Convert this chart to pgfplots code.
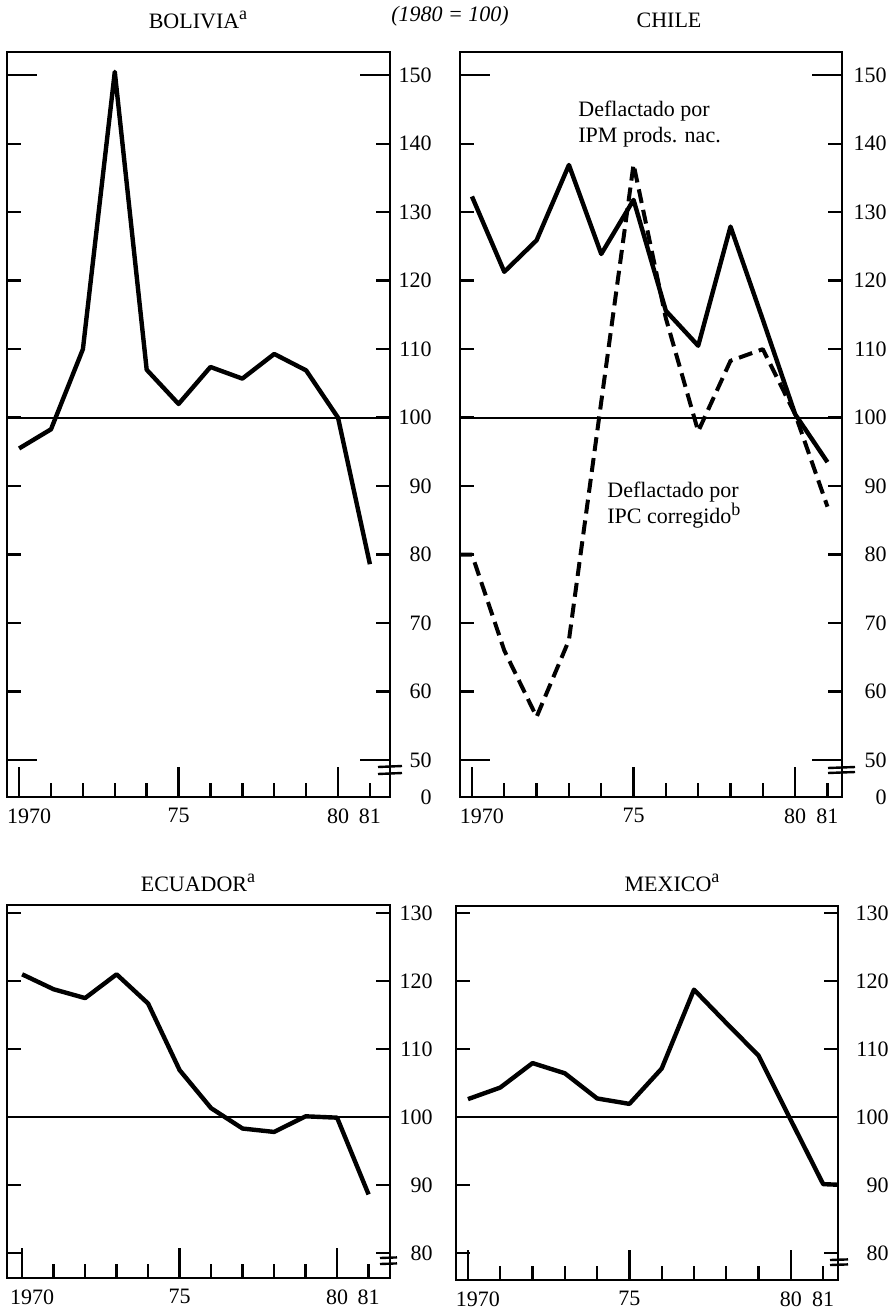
\documentclass[border=0pt]{standalone}
\usepackage{fontspec}
\setmainfont{Liberation Serif}
\usepackage{pgfplots}
\pgfplotsset{compat=1.18}

\newcommand{\supl}[1]{\raisebox{0.38em}{\fontsize{9}{9}\selectfont #1}}

% common look of the four panels
\pgfplotsset{
  panel/.style={
    scale only axis, anchor=north west,
    axis line style={line width=1.2pt},
    tick align=inside,
    xtick pos=left, ytick pos=both,
    yticklabel pos=right,
    major tick length=7pt,
    every tick/.style={black, line width=1.2pt},
    tick label style={font=\fontsize{11}{13}\selectfont, inner sep=0pt},
    /pgf/number format/assume math mode=true,
    xtick={1970,1971,1972,1973,1974,1975,1976,1977,1978,1979,1980,1981},
    xticklabels={,,,,,75,,,,,80,81},
    xticklabel style={yshift=-5.5pt},
    extra x ticks={1970,1975,1980},
    extra x tick labels={1970,,},
    extra tick style={major tick length=15pt},
    extra x tick style={xticklabel style={xshift=5pt}},
    yticklabel style={anchor=east, xshift=#1},
  },
  toppanel/.style={
    panel=#1,
    width=191.5pt, height=372.5pt,
    ymin=44.6, ymax=153.4,
    ytick={44.6,50,60,70,80,90,100,110,120,130,140,150},
    yticklabels={0,50,60,70,80,90,100,110,120,130,140,150},
    extra y ticks={50,150},
    extra y tick labels={,},
  },
  botpanel/.style={
    panel=#1,
    width=191.5pt, height=186.5pt,
    ytick={80,90,100,110,120,130},
    yticklabels={80,90,100,110,120,130},
  },
  serie/.style={line width=2.2pt, line join=round, black},
  base/.style={line width=0.9pt, black},
}

\begin{document}
\begin{tikzpicture}
\path[use as bounding box] (0,0) rectangle (447pt,-654.5pt);

% BOLIVIA
\begin{axis}[toppanel=21pt, at={(3.5pt,-26pt)}, xmin=1969.62, xmax=1981.63]
  \addplot[base] coordinates {(1969,100) (1983,100)};
  \addplot[serie] coordinates {
    (1970,95.5) (1971,98.3) (1972,110) (1973,150.5) (1974,107) (1975,102)
    (1976,107.4) (1977,105.7) (1978,109.3) (1979,106.9) (1980,100) (1981,78.6)};
\end{axis}

% CHILE
\begin{axis}[toppanel=22.5pt, at={(230pt,-26pt)}, width=191pt, xmin=1969.63, xmax=1981.45]
  \addplot[base] coordinates {(1969,100) (1983,100)};
  % deflactado por IPM productos nacionales
  \addplot[serie] coordinates {
    (1970,132.3) (1971,121.3) (1972,125.9) (1973,136.9) (1974,123.9) (1975,131.8)
    (1976,115.6) (1977,110.5) (1978,127.9) (1979,114.3) (1980,100.5) (1981,93.5)};
  % deflactado por IPC corregido
  \addplot[serie, line width=2pt, dash pattern=on 7pt off 3.5pt] coordinates {
    (1969.6,80) (1970,80) (1971,66) (1972,56.3) (1973,67.5) (1974,102.3) (1975,137)
    (1976,114.5) (1977,98) (1978,108.3) (1979,110) (1980,100.5) (1981,87)};
\end{axis}

% ECUADOR
\begin{axis}[botpanel=21.5pt, at={(3.5pt,-452.5pt)}, xmin=1969.52, xmax=1981.68,
  ymin=76.3, ymax=131.2]
  \addplot[base] coordinates {(1969,100) (1983,100)};
  \addplot[serie] coordinates {
    (1970,121) (1971,118.8) (1972,117.5) (1973,121) (1974,116.7) (1975,106.9)
    (1976,101.3) (1977,98.3) (1978,97.8) (1979,100.1) (1980,99.9) (1981,88.6)};
\end{axis}

% MEXICO
\begin{axis}[botpanel=25.5pt, at={(228pt,-453pt)}, width=191pt, height=187pt,
  xmin=1969.63, xmax=1981.46, ymin=76, ymax=131]
  \addplot[base] coordinates {(1969,100) (1983,100)};
  \addplot[serie] coordinates {
    (1970,102.6) (1971,104.3) (1972,107.9) (1973,106.4) (1974,102.7) (1975,101.9)
    (1976,107.1) (1977,118.7) (1978,113.8) (1979,109) (1980,99.5) (1981,90.1) (1981.5,90)};
\end{axis}

% titles
\begin{scope}[every node/.style={font=\fontsize{11}{13}\selectfont}]
  \node at (99pt,-10pt) {BOLIVIA\supl{a}};
  \node at (225pt,-8pt) {\itshape (1980 = 100)};
  \node at (334.5pt,-10pt) {CHILE};
  \node at (99pt,-441.5pt) {ECUADOR\supl{a}};
  \node at (336pt,-441.5pt) {MEXICO\supl{a}};
  \node[anchor=north west, align=left, inner sep=0pt] at (289pt,-50.5pt)
    {Deflactado por\\IPM prods. nac.};
  \node[anchor=north west, align=left, inner sep=0pt] at (303.5pt,-241pt)
    {Deflactado por\\IPC corregido\supl{b}};
\end{scope}

% axis breaks
\begin{scope}[line width=1.2pt]
  \draw (189pt,-383.5pt) -- (201pt,-383pt);
  \draw (189pt,-387pt) -- (201pt,-386.5pt);
  \draw (414pt,-384pt) -- (427.5pt,-383.5pt);
  \draw (414pt,-386.5pt) -- (427.5pt,-386pt);
  \draw (190pt,-629pt) -- (198.5pt,-628.7pt);
  \draw (190pt,-632pt) -- (198.5pt,-631.7pt);
  \draw (415pt,-630pt) -- (424pt,-629.7pt);
  \draw (415pt,-632.5pt) -- (424pt,-632.2pt);
\end{scope}
\end{tikzpicture}
\end{document}
